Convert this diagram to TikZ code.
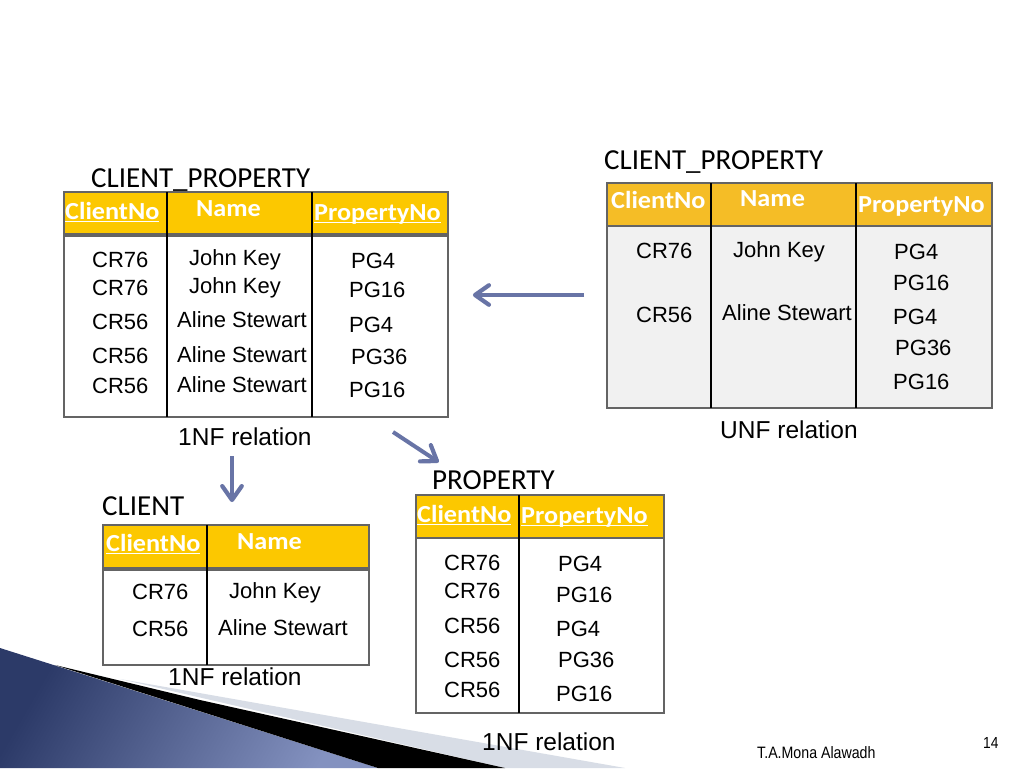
\documentclass[tikz,border=0pt]{standalone}
\usepackage{fontspec}
\setmainfont{Liberation Sans}
\newfontfamily\calib{Carlito}
\newfontfamily\hdrfont[FakeStretch=1.07]{Carlito Bold}
\newfontfamily\footfont[FakeStretch=0.86]{Liberation Sans}
\usetikzlibrary{arrows.meta}
\definecolor{hdrA}{RGB}{252,200,0}
\definecolor{hdrB}{RGB}{245,189,38}
\definecolor{bodyB}{RGB}{241,241,241}
\definecolor{framec}{RGB}{100,100,100}
\definecolor{arrowc}{RGB}{104,116,166}
\definecolor{navyA}{RGB}{44,58,104}
\definecolor{navyB}{RGB}{132,146,192}
\definecolor{wedgegray}{RGB}{216,221,230}
\newcommand\uln[1]{\setbox0=\hbox{#1}\rlap{\rule[-2.6pt]{\wd0}{1.1pt}}\box0}
\newcommand\chevhead[3]{\draw[chevron] ([shift={(#2:17)}]#1) -- (#1) -- ([shift={(#3:17)}]#1);}
\tikzset{
 celltext/.style={anchor=base west, inner sep=0pt, font=\fontsize{22}{26}\selectfont},
 ttltext/.style={anchor=base west, inner sep=0pt, font=\calib\fontsize{29}{34}\selectfont},
 hdtext/.style={anchor=base west, inner sep=0pt, text=white, font=\hdrfont\fontsize{24.5}{28}\selectfont},
 reltext/.style={anchor=base west, inner sep=0pt, font=\fontsize{24.5}{28}\selectfont},
 tframe/.style={draw=framec, line width=1.5pt},
 tdiv/.style={draw=black, line width=1.2pt},
 flowarrow/.style={draw=arrowc, line width=4pt},
 chevron/.style={draw=arrowc, line width=4.2pt, line cap=round, line join=round}
}
\begin{document}
\begin{tikzpicture}[x=1pt,y=-1pt]
\useasboundingbox (0,0) rectangle (1024,768);
\fill[white] (0,0) rectangle (1024,768);
% decoration bottom-left
\shade[left color=navyA, right color=navyB, shading angle=60] (0,648) -- (378,768) -- (0,768) -- cycle;
\fill[wedgegray] (120,679) -- (625,768) -- (505,768) -- cycle;
\fill[black] (55,665) -- (200,700) -- (505,768) -- (378,768) -- cycle;

% ---------- Table 1: CLIENT_PROPERTY (1NF) ----------
\path[fill=hdrA, tframe] (64,192) rectangle (448,234);
\path[tframe] (64,236) rectangle (448,417);
\draw[tdiv] (167,192) -- (167,417);
\draw[tdiv] (312,192) -- (312,417);
\node[ttltext] (t1title) at (91,187) {CLIENT\_PROPERTY};
\node[hdtext] (t1h1) at (65,219) {\uln{ClientNo}};
\node[hdtext] (t1h2) at (196,216) {Name};
\node[hdtext] (t1h3) at (314,220) {\uln{PropertyNo}};
\node[celltext] (t1a1) at (92,267) {CR76};
\node[celltext] (t1b1) at (189,265) {John Key};
\node[celltext] (t1c1) at (351,268) {PG4};
\node[celltext] (t1a2) at (92,295) {CR76};
\node[celltext] (t1b2) at (189,293) {John Key};
\node[celltext] (t1c2) at (349,297) {PG16};
\node[celltext] (t1a3) at (92,329) {CR56};
\node[celltext] (t1b3) at (177,327) {Aline Stewart};
\node[celltext] (t1c3) at (349,332) {PG4};
\node[celltext] (t1a4) at (92,363) {CR56};
\node[celltext] (t1b4) at (177,362) {Aline Stewart};
\node[celltext] (t1c4) at (351,364) {PG36};
\node[celltext] (t1a5) at (92,393) {CR56};
\node[celltext] (t1b5) at (177,392) {Aline Stewart};
\node[celltext] (t1c5) at (349,397) {PG16};
\node[reltext] (t1rel) at (178,445) {1NF relation};

% ---------- Table 2: CLIENT_PROPERTY (UNF) ----------
\path[fill=hdrB, tframe] (607,183) rectangle (992,226);
\path[fill=bodyB, tframe] (607,226) rectangle (992,408);
\draw[tdiv] (711,183) -- (711,408);
\draw[tdiv] (856,183) -- (856,408);
\node[ttltext] (t2title) at (604,169) {CLIENT\_PROPERTY};
\node[hdtext] (t2h1) at (611,208) {ClientNo};
\node[hdtext] (t2h2) at (740,206) {Name};
\node[hdtext] (t2h3) at (858,212) {PropertyNo};
\node[celltext] (t2a1) at (636,258) {CR76};
\node[celltext] (t2b1) at (733,257) {John Key};
\node[celltext] (t2c1) at (894,259) {PG4};
\node[celltext] (t2c2) at (893,290) {PG16};
\node[celltext] (t2a2) at (636,322) {CR56};
\node[celltext] (t2b2) at (722,320) {Aline Stewart};
\node[celltext] (t2c3) at (893,324) {PG4};
\node[celltext] (t2c4) at (895,355) {PG36};
\node[celltext] (t2c5) at (893,389) {PG16};
\node[reltext] (t2rel) at (720,438) {UNF relation};

% ---------- Table 3: CLIENT ----------
\path[fill=hdrA, tframe] (103,525) rectangle (369,568);
\path[tframe] (103,570) rectangle (369,665);
\draw[tdiv] (207,525) -- (207,665);
\node[ttltext] (t3title) at (102,515) {CLIENT};
\node[hdtext] (t3h1) at (106,551) {\uln{ClientNo}};
\node[hdtext] (t3h2) at (237,549) {Name};
\node[celltext] (t3a1) at (132,599) {CR76};
\node[celltext] (t3b1) at (229,598) {John Key};
\node[celltext] (t3a2) at (132,636) {CR56};
\node[celltext] (t3b2) at (218,635) {Aline Stewart};
\node[reltext] (t3rel) at (168,685) {1NF relation};

% ---------- Table 4: PROPERTY ----------
\path[fill=hdrA, tframe] (416,495) rectangle (664,538);
\path[tframe] (416,538) rectangle (664,713);
\draw[tdiv] (519,495) -- (519,713);
\node[ttltext] (t4title) at (432,489) {PROPERTY};
\node[hdtext] (t4h1) at (417,522) {\uln{ClientNo}};
\node[hdtext] (t4h2) at (521,523) {\uln{PropertyNo}};
\node[celltext] (t4a1) at (444,570) {CR76};
\node[celltext] (t4b1) at (558,571) {PG4};
\node[celltext] (t4a2) at (444,598) {CR76};
\node[celltext] (t4b2) at (556,602) {PG16};
\node[celltext] (t4a3) at (444,633) {CR56};
\node[celltext] (t4b3) at (556,636) {PG4};
\node[celltext] (t4a4) at (444,667) {CR56};
\node[celltext] (t4b4) at (558,667) {PG36};
\node[celltext] (t4a5) at (444,697) {CR56};
\node[celltext] (t4b5) at (556,701) {PG16};
\node[reltext] (t4rel) at (482,750) {1NF relation};

% ---------- arrows ----------
\coordinate (arA1) at (584,295);
\coordinate (arA2) at (475,295);
\coordinate (arB1) at (393,432);
\coordinate (arB2) at (437,461);
\coordinate (arC1) at (232,456);
\coordinate (arC2) at (232,500);
\draw[flowarrow] (arA1) -- (arA2);
\draw[flowarrow] (arB1) -- (arB2);
\draw[flowarrow] (arC1) -- (arC2);
\chevhead{arA2}{35}{-35}
\chevhead{arB2}{178.7}{248.7}
\chevhead{arC2}{235}{305}

% ---------- footer ----------
\node[anchor=base west, inner sep=0pt, font=\footfont\fontsize{16.5}{19}\selectfont] (author) at (757,758) {T.A.Mona Alawadh};
\node[anchor=base west, inner sep=0pt, font=\footfont\fontsize{16}{19}\selectfont] (pageno) at (983,748) {14};
\end{tikzpicture}
\end{document}
